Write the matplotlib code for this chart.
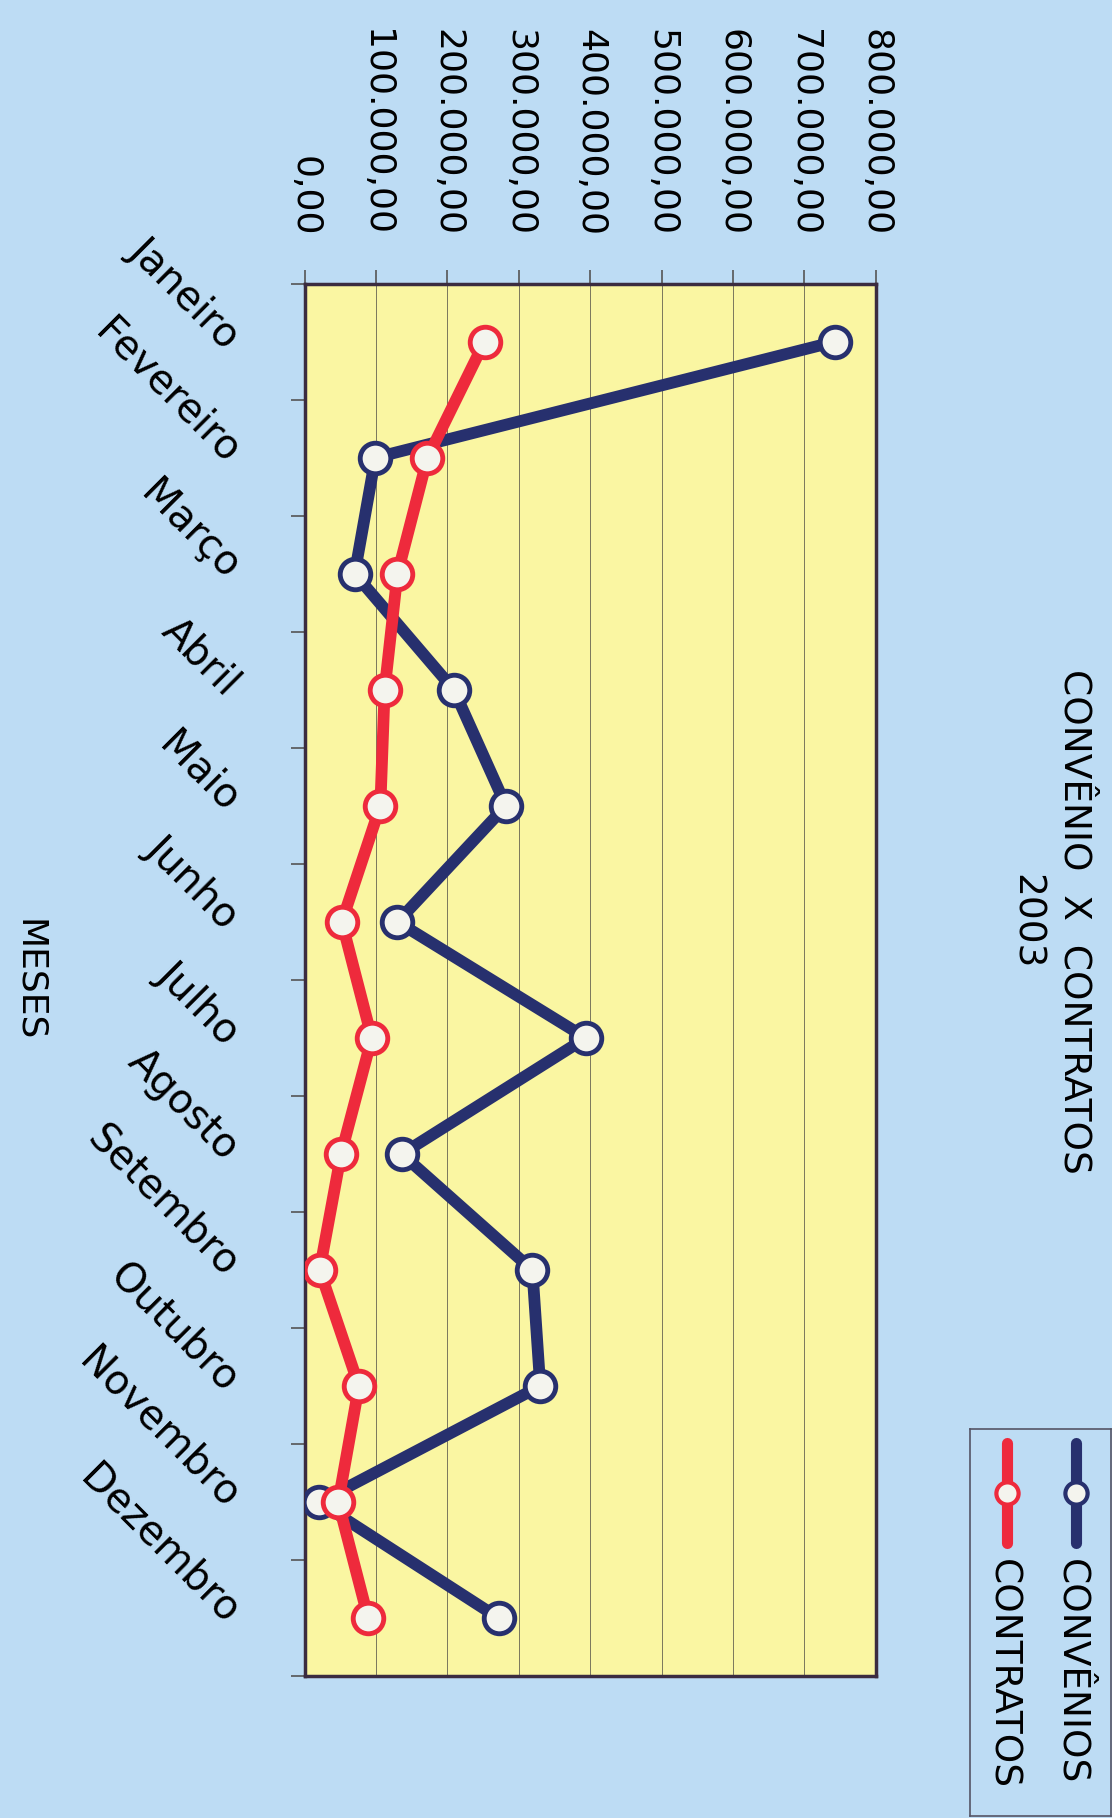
import matplotlib.pyplot as plt
import numpy as np
from matplotlib.ticker import FuncFormatter

# Dados (valores em R$)
meses = ['Janeiro', 'Fevereiro', 'Março', 'Abril', 'Maio', 'Junho', 'Julho',
         'Agosto', 'Setembro', 'Outubro', 'Novembro', 'Dezembro']
convenios = [743000, 99000, 70000, 209000, 282000, 130000, 394000,
             136000, 319000, 330000, 20000, 272000]
contratos = [252000, 172000, 130000, 112000, 106000, 52000, 94000,
             51000, 21000, 76000, 47000, 89000]
valor_ticks = np.arange(0, 800001, 100000)

plt.rcParams['font.family'] = ['DejaVu Sans']

bg = '#bddcf4'
azul = '#27306e'
vermelho = '#ee2a3c'

fig = plt.figure(figsize=(11.12, 18.18), dpi=100, facecolor=bg)
ax = fig.add_axes([0.274, 0.078, 0.5135, 0.766])
ax.set_facecolor('#faf6a2')

y = np.arange(len(meses))

# linhas de grade verticais (valores)
ax.set_xlim(0, 800000)
ax.set_xticks(valor_ticks)
ax.grid(axis='x', color='#7a775c', linewidth=0.7, zorder=1)
ax.set_axisbelow(True)

ax.plot(convenios, y, color=azul, linewidth=8.5, marker='o', markersize=22,
        markerfacecolor='#f4f4ee', markeredgecolor=azul, markeredgewidth=3.5,
        zorder=3, solid_capstyle='round')
ax.plot(contratos, y, color=vermelho, linewidth=8.5, marker='o', markersize=22,
        markerfacecolor='#f4f4ee', markeredgecolor=vermelho, markeredgewidth=3.5,
        zorder=4, solid_capstyle='round')

ax.set_ylim(len(meses) - 0.5, -0.5)

# eixo de valores no topo, texto girado
ax.xaxis.tick_top()
fmt = FuncFormatter(lambda v, p: f'{v:,.2f}'.replace(',', '#').replace('.', ',').replace('#', '.'))
ax.xaxis.set_major_formatter(fmt)
ax.tick_params(axis='x', direction='out', length=10, width=1.2, color='#555555',
               pad=24, labelsize=26, labelrotation=-90)

# eixo de meses
ax.set_yticks(y)
ax.set_yticklabels(meses)
ax.set_yticks(np.arange(-0.5, len(meses), 1), minor=True)
ax.tick_params(axis='y', which='major', length=0, pad=52, labelsize=29)
ax.tick_params(axis='y', which='minor', direction='out', length=10, width=1.2,
               color='#555555')
for lbl in ax.get_yticklabels():
    lbl.set_rotation(-45)
    lbl.set_rotation_mode('anchor')
    lbl.set_ha('right')
    lbl.set_va('center')

for s in ax.spines.values():
    s.set_color('#3b2c40')
    s.set_linewidth(2.5)

# títulos
fig.text(0.944, 0.493, 'CONVÊNIO  X  CONTRATOS\n2003', rotation=-90,
         ha='center', va='center', multialignment='center', fontsize=27,
         linespacing=1.45)
fig.text(0.026, 0.461, 'MESES', rotation=-90, ha='center', va='center',
         fontsize=26)

# legenda girada, desenhada à mão
lg = fig.add_axes([0.872, 0.001, 0.127, 0.213])
lg.set_facecolor(bg)
lg.set_xlim(0, 141)
lg.set_ylim(388, 0)
lg.set_xticks([])
lg.set_yticks([])
for s in lg.spines.values():
    s.set_color('#555566')
    s.set_linewidth(1.2)
for xc, cor, nome in [(106, azul, 'CONVÊNIOS'), (37, vermelho, 'CONTRATOS')]:
    lg.plot([xc, xc], [14, 114], color=cor, linewidth=8, solid_capstyle='round')
    lg.plot([xc], [64], marker='o', markersize=16, markerfacecolor='#f4f4ee',
            markeredgecolor=cor, markeredgewidth=3)
    lg.text(xc - 4, 130, nome, rotation=-90, ha='center', va='top', fontsize=27)

fig.savefig('out.png', dpi=100, facecolor=bg)
